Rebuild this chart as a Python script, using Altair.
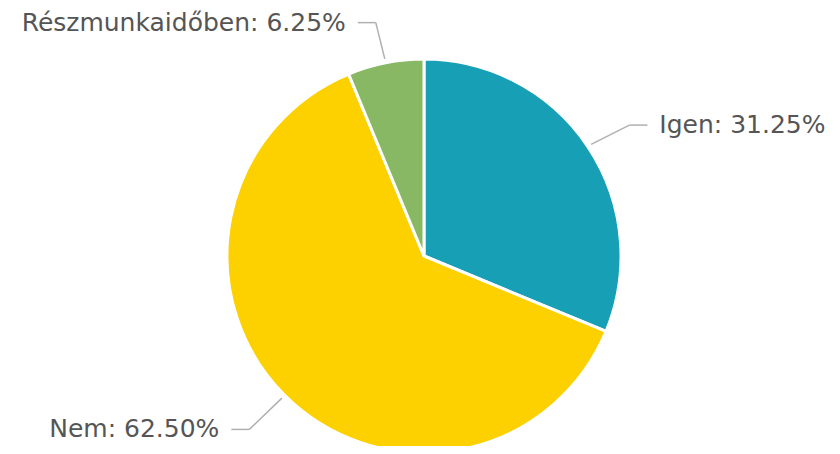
import altair as alt
import pandas as pd

categories = ["Igen", "Nem", "Részmunkaidőben"]
values = [31.25, 62.50, 6.25]
colors = ["#17a0b5", "#fdd000", "#88b863"]

df = pd.DataFrame({"cat": categories, "value": values, "idx": list(range(len(categories)))})
df["label"] = [f"{c}: {v:.2f}%" for c, v in zip(categories, values)]

W, H = 824, 438
CX, CY, R = 416, 248, 197
R0, RX1, RY1, HL, GAP = R + 4, R + 50, R + 44, 18, 12

xs = alt.Scale(domain=[0, W], nice=False, zero=False)
ys = alt.Scale(domain=[0, H], nice=False, zero=False, reverse=True)

base = alt.Chart(df)

pie = base.mark_arc(outerRadius=R, stroke="white", strokeWidth=3).encode(
    theta=alt.Theta("value:Q", stack=True),
    order=alt.Order("idx:Q"),
    color=alt.Color("cat:N", scale=alt.Scale(domain=categories, range=colors), legend=None),
    x=alt.value(CX),
    y=alt.value(CY),
)

geo = (
    base.transform_window(cum="sum(value)", sort=[alt.SortField("idx")], frame=[None, 0])
    .transform_joinaggregate(total="sum(value)")
    .transform_calculate(mid="(datum.cum - datum.value / 2) / datum.total * 2 * PI")
    .transform_calculate(s="sin(datum.mid)", c="cos(datum.mid)")
    .transform_calculate(
        dir="datum.s >= 0 ? 1 : -1",
        x0=f"{CX} + {R0} * datum.s",
        y0=f"{CY} - {R0} * datum.c",
        x1=f"{CX} + {RX1} * datum.s",
        y1=f"{CY} + 3 - {RY1} * datum.c",
    )
    .transform_calculate(
        x2=f"datum.x1 + datum.dir * {HL}",
        tx=f"datum.x1 + datum.dir * {HL + GAP}",
    )
)

seg1 = geo.mark_rule(color="#b0b0b0", strokeWidth=1.5).encode(
    x=alt.X("x0:Q", scale=xs, axis=None),
    y=alt.Y("y0:Q", scale=ys, axis=None),
    x2="x1:Q",
    y2="y1:Q",
)
seg2 = geo.mark_rule(color="#b0b0b0", strokeWidth=1.5).encode(
    x=alt.X("x1:Q", scale=xs, axis=None),
    y=alt.Y("y1:Q", scale=ys, axis=None),
    x2="x2:Q",
)

txt_style = dict(baseline="middle", fontSize=25, font="DejaVu Sans", color="#555555")
tr = geo.transform_filter("datum.dir > 0").mark_text(align="left", **txt_style).encode(
    x=alt.X("tx:Q", scale=xs, axis=None),
    y=alt.Y("y1:Q", scale=ys, axis=None),
    text="label:N",
)
tl = geo.transform_filter("datum.dir < 0").mark_text(align="right", **txt_style).encode(
    x=alt.X("tx:Q", scale=xs, axis=None),
    y=alt.Y("y1:Q", scale=ys, axis=None),
    text="label:N",
)

chart = (
    alt.layer(pie, seg1, seg2, tr, tl)
    .properties(width=W, height=H, autosize=alt.AutoSizeParams(type="none"), padding=0, background="white")
    .configure_view(stroke=None)
)

chart.save("out.html", embed_options={"renderer": "svg", "actions": False})
